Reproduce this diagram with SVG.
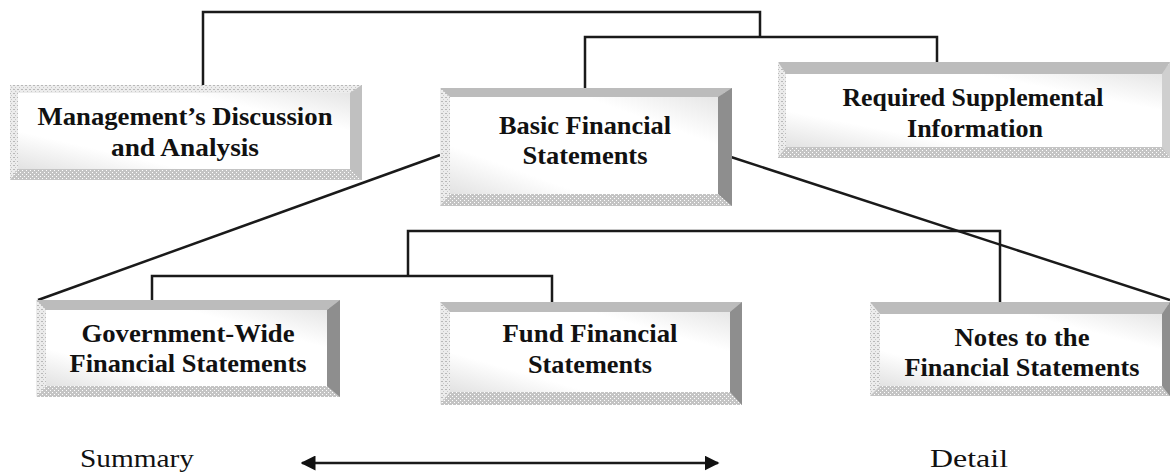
<svg xmlns="http://www.w3.org/2000/svg" width="1170" height="473" viewBox="0 0 1170 473">
<defs>
<pattern id="dotsDark" width="4" height="4" patternUnits="userSpaceOnUse">
<rect width="4" height="4" fill="#c4c4c4"/>
<rect x="0" y="0" width="1" height="1" fill="#ffffff"/>
<rect x="2" y="2" width="1" height="1" fill="#ffffff"/>
</pattern>
<pattern id="dotsLight" width="4" height="4" patternUnits="userSpaceOnUse">
<rect width="4" height="4" fill="#ececec"/>
<rect x="1" y="1" width="2" height="1" fill="#b8b8b8"/>
<rect x="3" y="3" width="1" height="1" fill="#c8c8c8"/>
</pattern>
<linearGradient id="inner" x1="0" y1="1" x2="1" y2="0">
<stop offset="0" stop-color="#e2e2e2"/>
<stop offset="0.25" stop-color="#ffffff"/>
<stop offset="0.75" stop-color="#ffffff"/>
<stop offset="1" stop-color="#e6e6e6"/>
</linearGradient>
<marker id="ah" viewBox="0 0 10 10" refX="9" refY="5" markerWidth="6" markerHeight="6" orient="auto-start-reverse">
<path d="M0,0 L10,5 L0,10 Z" fill="#111"/>
</marker>
</defs>
<style>
.top{fill:#bcbcbc}
.right{fill:#8e8e8e}
.bottom{fill:url(#dotsDark)}
.left{fill:url(#dotsLight)}
.in{fill:url(#inner)}
.t{font-family:"Liberation Serif","Times New Roman",serif;font-weight:bold;font-size:26px;fill:#111;text-anchor:middle}
.lbl{font-family:"Liberation Serif","Times New Roman",serif;font-size:26px;fill:#111;text-anchor:middle}
.c{fill:none;stroke:#1a1a1a;stroke-width:2.5}
</style>
<rect width="1170" height="473" fill="#ffffff"/>

<g id="connectors">
<polyline class="c" points="203,88 203,12 760,12 760,37"/>
<polyline class="c" points="585,88 585,37 937,37 937,62"/>
<line class="c" x1="440" y1="155" x2="38" y2="300"/>
<line class="c" x1="731" y1="157" x2="1170" y2="300"/>
<polyline class="c" points="408,276 408,231 1000,231 1000,302"/>
<polyline class="c" points="152,300 152,276 552,276 552,302"/>
<line class="c" x1="302" y1="463" x2="718" y2="463" marker-start="url(#ah)" marker-end="url(#ah)"/>
</g>

<g id="mda">
<rect class="bottom" x="10" y="85" width="352" height="95"/>
<polygon class="left" points="10,85 362,85 350,93 18,93"/>
<polygon class="left" points="10,85 10,180 18,169 18,93"/>
<polygon class="top" points="362,85 362,180 350,169 350,93" style="fill:#c0c0c0"/>
<rect class="in" x="18" y="93" width="332" height="76"/>
<text class="t" x="185" y="125" textLength="295" lengthAdjust="spacingAndGlyphs">Management’s Discussion</text>
<text class="t" x="185" y="156" textLength="148" lengthAdjust="spacingAndGlyphs">and Analysis</text>
</g>

<g id="bfs">
<rect class="bottom" x="440" y="88" width="292" height="118"/>
<polygon class="top" points="440,88 732,88 718,97 450,97"/>
<polygon class="right" points="732,88 732,206 718,194 718,97"/>
<polygon class="left" points="440,88 440,206 450,194 450,97"/>
<rect class="in" x="450" y="97" width="268" height="97"/>
<text class="t" x="585" y="134" textLength="172" lengthAdjust="spacingAndGlyphs">Basic Financial</text>
<text class="t" x="585" y="164" textLength="125" lengthAdjust="spacingAndGlyphs">Statements</text>
</g>

<g id="rsi">
<rect class="bottom" x="778" y="62" width="392" height="96"/>
<polygon class="top" points="778,62 1170,62 1162,74 786,74"/>
<polygon class="top" points="1170,62 1170,158 1162,147 1162,74" style="fill:#cfcfcf"/>
<polygon class="left" points="778,62 778,158 786,147 786,74"/>
<rect class="in" x="786" y="74" width="376" height="73"/>
<text class="t" x="973" y="106" textLength="261" lengthAdjust="spacingAndGlyphs">Required Supplemental</text>
<text class="t" x="975" y="137" textLength="136" lengthAdjust="spacingAndGlyphs">Information</text>
</g>

<g id="gwfs">
<rect class="bottom" x="36" y="300" width="304" height="97"/>
<polygon class="top" points="36,300 340,300 327,310 46,310"/>
<polygon class="right" points="340,300 340,397 327,386 327,310"/>
<polygon class="left" points="36,300 36,397 46,386 46,310"/>
<rect class="in" x="46" y="310" width="281" height="76"/>
<text class="t" x="188" y="342" textLength="213" lengthAdjust="spacingAndGlyphs">Government-Wide</text>
<text class="t" x="188" y="372" textLength="237" lengthAdjust="spacingAndGlyphs">Financial Statements</text>
</g>

<g id="ffs">
<rect class="bottom" x="440" y="302" width="302" height="103"/>
<polygon class="top" points="440,302 742,302 730,312 450,312"/>
<polygon class="right" points="742,302 742,405 730,392 730,312"/>
<polygon class="left" points="440,302 440,405 450,392 450,312"/>
<rect class="in" x="450" y="312" width="280" height="80"/>
<text class="t" x="590" y="342" textLength="175" lengthAdjust="spacingAndGlyphs">Fund Financial</text>
<text class="t" x="590" y="373" textLength="124" lengthAdjust="spacingAndGlyphs">Statements</text>
</g>

<g id="nfs">
<rect class="bottom" x="870" y="302" width="300" height="94"/>
<polygon class="top" points="870,302 1170,302 1162,314 880,314"/>
<polygon class="right" points="1170,302 1170,396 1162,386 1162,314"/>
<polygon class="left" points="870,302 870,396 880,386 880,314"/>
<rect class="in" x="880" y="314" width="282" height="72"/>
<text class="t" x="1022" y="346" textLength="135" lengthAdjust="spacingAndGlyphs">Notes to the</text>
<text class="t" x="1022" y="376" textLength="235" lengthAdjust="spacingAndGlyphs">Financial Statements</text>
</g>

<g id="scale">
<text class="lbl" x="137" y="467" textLength="114" lengthAdjust="spacingAndGlyphs">Summary</text>
<text class="lbl" x="969" y="467" textLength="78" lengthAdjust="spacingAndGlyphs">Detail</text>
</g>
</svg>
